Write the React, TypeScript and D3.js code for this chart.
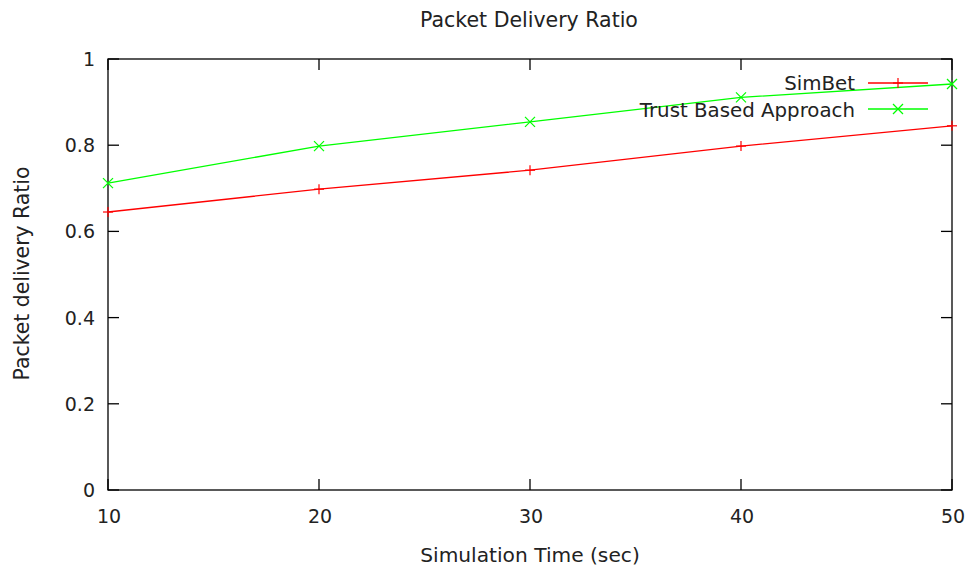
import React from "react";
import * as d3 from "d3";

const times = [10, 20, 30, 40, 50];
const simbet = [0.645, 0.698, 0.742, 0.798, 0.845];
const trust = [0.712, 0.798, 0.854, 0.911, 0.942];
const yTicks = [0, 0.2, 0.4, 0.6, 0.8, 1];
const xTicks = [10, 20, 30, 40, 50];
const yTickLabels = ["0", "0.2", "0.4", "0.6", "0.8", "1"];

const W = 971, H = 571;
const L = 108, R = 952, T = 59, B = 490;
const FONT = "DejaVu Sans, sans-serif";
const TXT = "#222";

export default function App() {
  const x = d3.scaleLinear().domain([10, 50]).range([L, R]);
  const y = d3.scaleLinear().domain([0, 1]).range([B, T]);
  const line = d3.line<number>().x((_, i) => x(times[i])).y((d) => y(d));
  const tk = 11;
  const plus = (cx: number, cy: number, c: string) => (
    <g stroke={c} strokeWidth={1.2}>
      <line x1={cx - 5} x2={cx + 5} y1={cy} y2={cy} />
      <line x1={cx} x2={cx} y1={cy - 5} y2={cy + 5} />
    </g>
  );
  const cross = (cx: number, cy: number, c: string) => (
    <g stroke={c} strokeWidth={1.2}>
      <line x1={cx - 5} x2={cx + 5} y1={cy - 5} y2={cy + 5} />
      <line x1={cx - 5} x2={cx + 5} y1={cy + 5} y2={cy - 5} />
    </g>
  );
  return (
    <svg width={W} height={H} style={{ position: "absolute", left: 0, top: 0 }} fontFamily={FONT}>
      <rect width={W} height={H} fill="#fff" />
      <text x={(L + R) / 2 - 1} y={27} textAnchor="middle" fontSize={20.5} fill={TXT}>Packet Delivery Ratio</text>
      {yTicks.map((v, i) => (
        <g key={"y" + i}>
          <line x1={L} x2={L + tk} y1={y(v)} y2={y(v)} stroke="#000" strokeWidth={1.3} />
          <line x1={R} x2={R - tk} y1={y(v)} y2={y(v)} stroke="#000" strokeWidth={1.3} />
          <text x={95} y={y(v) + 7} textAnchor="end" fontSize={19} fill={TXT}>{yTickLabels[i]}</text>
        </g>
      ))}
      {xTicks.map((v, i) => (
        <g key={"x" + i}>
          <line x1={x(v)} x2={x(v)} y1={B} y2={B - tk} stroke="#000" strokeWidth={1.3} />
          <line x1={x(v)} x2={x(v)} y1={T} y2={T + tk} stroke="#000" strokeWidth={1.3} />
          <text x={x(v) + 1} y={523} textAnchor="middle" fontSize={19} fill={TXT}>{v}</text>
        </g>
      ))}
      <rect x={L} y={T} width={R - L} height={B - T} fill="none" stroke="#000" strokeWidth={1.3} />
      <text x={(L + R) / 2} y={562} textAnchor="middle" fontSize={20.2} fill={TXT}>Simulation Time (sec)</text>
      <text transform={`translate(29,${(T + B) / 2 - 1}) rotate(-90)`} textAnchor="middle" fontSize={20.4} fill={TXT}>Packet delivery Ratio</text>
      <path d={line(simbet) || ""} fill="none" stroke="#ff0000" strokeWidth={1.3} />
      {simbet.map((v, i) => <g key={"s" + i}>{plus(x(times[i]), y(v), "#ff0000")}</g>)}
      <path d={line(trust) || ""} fill="none" stroke="#00ff00" strokeWidth={1.3} />
      {trust.map((v, i) => <g key={"t" + i}>{cross(x(times[i]), y(v), "#00ff00")}</g>)}
      <text x={855} y={90} textAnchor="end" fontSize={19.8} fill={TXT}>SimBet</text>
      <line x1={868} x2={928} y1={83} y2={83} stroke="#ff0000" strokeWidth={1.3} />
      {plus(898, 83, "#ff0000")}
      <text x={855} y={116.5} textAnchor="end" fontSize={19.8} fill={TXT}>Trust Based Approach</text>
      <line x1={868} x2={928} y1={109} y2={109} stroke="#00ff00" strokeWidth={1.3} />
      {cross(898, 109, "#00ff00")}
    </svg>
  );
}
